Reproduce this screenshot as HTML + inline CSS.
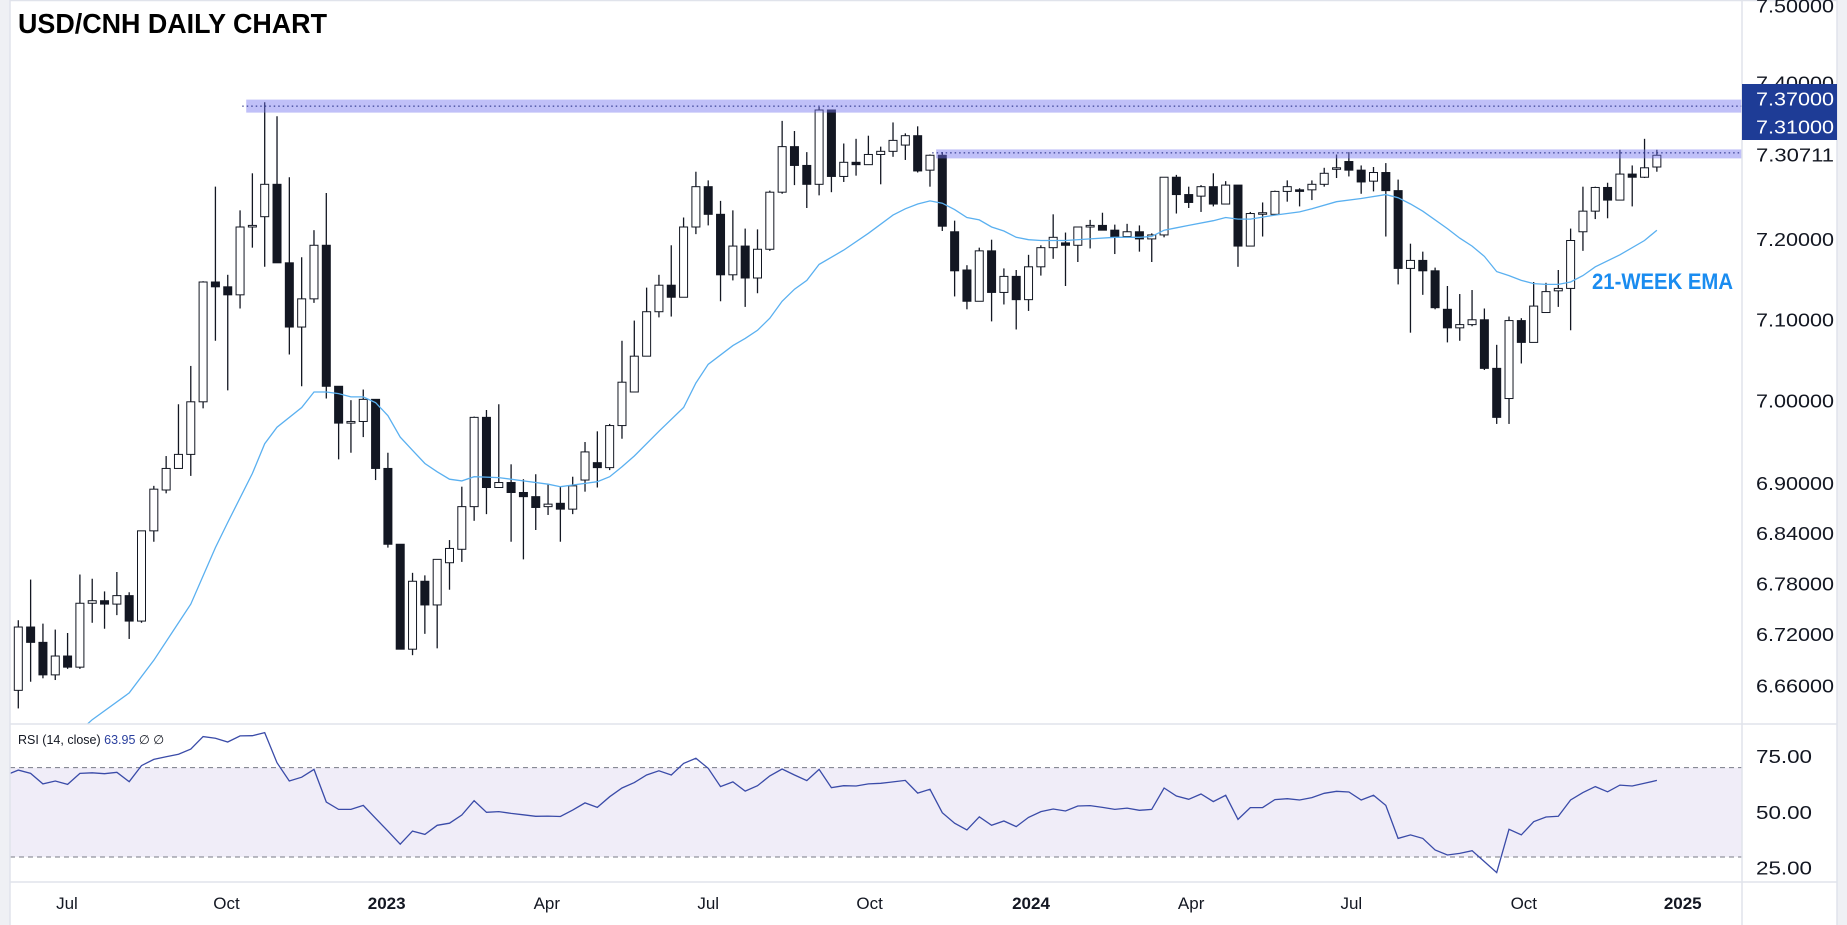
<!DOCTYPE html>
<html><head><meta charset="utf-8"><title>USD/CNH Daily Chart</title>
<style>
html,body{margin:0;padding:0;background:#eff0f4;}
#wrap{position:relative;width:1847px;height:925px;overflow:hidden;}
svg{display:block;}
text{font-family:"Liberation Sans",sans-serif;}
</style></head>
<body>
<div id="wrap">
<svg id="chart" width="1847" height="925" viewBox="0 0 1847 925">
  <rect x="10" y="0" width="1827" height="925" fill="#ffffff"/>
  <defs>
    <clipPath id="mainClip"><rect x="10" y="0" width="1732" height="724"/></clipPath>
    <clipPath id="rsiClip"><rect x="10" y="724" width="1732" height="158"/></clipPath>
  </defs>
  <g id="rsiBg"></g>
  <g id="candles" clip-path="url(#mainClip)"></g>
  <g id="ema" clip-path="url(#mainClip)"></g>
  <g id="bands"></g>
  <g id="rsi" clip-path="url(#rsiClip)"></g>
  <g id="axes"></g>
  <text x="18" y="33" font-size="28" font-weight="bold" fill="#000" textLength="309" lengthAdjust="spacingAndGlyphs">USD/CNH DAILY CHART</text>
  <text x="1592" y="289" font-size="22" font-weight="bold" fill="#1a8cf0" textLength="141" lengthAdjust="spacingAndGlyphs">21-WEEK EMA</text>
  <text x="18" y="744" font-size="12.5" fill="#131722">RSI (14, close) <tspan fill="#2a3f9e">63.95</tspan>  <tspan fill="#131722">∅ ∅</tspan></text>
</svg>
</div>
<script>
const opens=[6.655,6.729,6.711,6.673,6.695,6.682,6.757,6.760,6.756,6.766,6.736,6.843,6.892,6.918,6.935,6.999,7.147,7.141,7.131,7.216,7.229,7.270,7.171,7.091,7.126,7.193,7.018,6.973,6.975,7.002,6.918,6.827,6.703,6.783,6.755,6.805,6.821,6.872,6.980,6.895,6.901,6.889,6.884,6.872,6.876,6.869,6.904,6.925,6.919,6.970,7.011,7.055,7.110,7.143,7.128,7.216,7.267,7.232,7.156,7.192,7.152,7.188,7.260,7.318,7.294,7.270,7.365,7.280,7.298,7.295,7.308,7.312,7.320,7.332,7.288,7.307,7.210,7.162,7.123,7.186,7.134,7.154,7.125,7.166,7.190,7.196,7.193,7.216,7.218,7.212,7.204,7.210,7.201,7.206,7.279,7.257,7.255,7.267,7.245,7.269,7.192,7.233,7.232,7.261,7.263,7.263,7.270,7.290,7.299,7.288,7.274,7.285,7.262,7.164,7.174,7.161,7.113,7.090,7.094,7.100,7.040,7.003,7.099,7.072,7.109,7.136,7.139,7.210,7.236,7.266,7.250,7.283,7.279,7.292];
const highs=[6.737,6.785,6.733,6.726,6.722,6.791,6.786,6.771,6.794,6.770,6.843,6.897,6.933,6.996,7.043,7.148,7.267,7.156,7.237,7.284,7.375,7.357,7.279,7.178,7.212,7.259,7.018,7.001,7.014,7.002,6.937,6.827,6.793,6.790,6.809,6.832,6.896,6.981,6.989,6.996,6.923,6.905,6.911,6.899,6.896,6.908,6.950,6.963,6.972,7.074,7.099,7.140,7.156,7.193,7.228,7.286,7.275,7.249,7.237,7.214,7.213,7.262,7.351,7.338,7.311,7.369,7.365,7.322,7.328,7.332,7.318,7.349,7.335,7.344,7.308,7.311,7.224,7.168,7.190,7.200,7.164,7.162,7.181,7.193,7.232,7.209,7.216,7.225,7.234,7.219,7.220,7.218,7.208,7.279,7.282,7.267,7.269,7.284,7.274,7.269,7.235,7.247,7.262,7.275,7.265,7.275,7.291,7.308,7.311,7.294,7.292,7.297,7.276,7.195,7.185,7.165,7.142,7.132,7.137,7.114,7.069,7.104,7.102,7.147,7.146,7.162,7.214,7.267,7.267,7.272,7.314,7.294,7.328,7.314];
const lows=[6.634,6.665,6.669,6.667,6.680,6.680,6.734,6.727,6.743,6.715,6.734,6.830,6.888,6.918,6.909,6.991,7.074,7.013,7.114,7.190,7.166,7.171,7.057,7.018,7.121,7.003,6.929,6.937,6.956,6.904,6.823,6.703,6.696,6.721,6.704,6.773,6.806,6.855,6.863,6.895,6.830,6.809,6.844,6.862,6.830,6.863,6.890,6.895,6.916,6.954,7.011,7.055,7.103,7.104,7.128,7.207,7.218,7.123,7.149,7.116,7.133,7.186,7.258,7.269,7.240,7.256,7.260,7.273,7.281,7.295,7.270,7.305,7.301,7.285,7.267,7.211,7.129,7.113,7.123,7.098,7.119,7.088,7.111,7.155,7.176,7.142,7.172,7.189,7.212,7.182,7.204,7.185,7.172,7.203,7.233,7.240,7.235,7.242,7.245,7.166,7.192,7.204,7.231,7.248,7.242,7.250,7.267,7.278,7.280,7.258,7.261,7.204,7.144,7.084,7.131,7.113,7.072,7.074,7.092,7.038,6.972,6.972,7.046,7.072,7.109,7.116,7.087,7.186,7.226,7.227,7.250,7.242,7.278,7.286];
const closes=[6.729,6.711,6.673,6.695,6.682,6.757,6.760,6.756,6.766,6.736,6.843,6.893,6.918,6.935,6.999,7.147,7.141,7.131,7.216,7.218,7.270,7.171,7.091,7.126,7.193,7.018,6.973,6.975,7.002,6.918,6.827,6.703,6.783,6.755,6.809,6.822,6.872,6.980,6.895,6.901,6.889,6.884,6.871,6.875,6.869,6.897,6.938,6.919,6.970,7.023,7.055,7.110,7.143,7.128,7.216,7.267,7.232,7.156,7.192,7.152,7.188,7.260,7.318,7.294,7.270,7.365,7.280,7.298,7.295,7.308,7.312,7.326,7.332,7.287,7.307,7.217,7.161,7.123,7.186,7.134,7.154,7.125,7.166,7.190,7.203,7.193,7.216,7.218,7.212,7.204,7.210,7.201,7.206,7.279,7.257,7.247,7.267,7.245,7.269,7.192,7.233,7.234,7.261,7.267,7.261,7.270,7.284,7.291,7.288,7.273,7.285,7.262,7.164,7.174,7.161,7.115,7.090,7.094,7.100,7.040,6.980,7.099,7.072,7.117,7.135,7.139,7.199,7.236,7.266,7.250,7.283,7.279,7.291,7.307];
const emaIdx=[5,6,9,11,14,16,17,19,20,21,23,24,25,26,27,28,29,30,31,32,33,34,35,36,37,39,41,43,44,46,47,48,49,50,52,54,55,56,58,59,60,61,62,63,64,65,67,69,71,72,73,74,75,76,77,78,79,80,81,82,83,85,87,89,91,92,93,94,95,97,98,99,100,102,104,105,107,109,111,112,113,114,116,117,118,119,120,121,122,123,124,125,126,127,128,130,132,133];
const emaVal=[6.608,6.621,6.652,6.690,6.756,6.823,6.853,6.912,6.948,6.968,6.992,7.011,7.011,7.009,7.005,7.005,6.998,6.982,6.956,6.940,6.924,6.914,6.905,6.903,6.908,6.907,6.903,6.899,6.896,6.900,6.902,6.908,6.920,6.933,6.963,6.992,7.022,7.045,7.068,7.077,7.087,7.102,7.123,7.138,7.149,7.169,7.187,7.208,7.231,7.239,7.245,7.249,7.246,7.238,7.228,7.225,7.216,7.211,7.203,7.200,7.199,7.199,7.201,7.203,7.203,7.204,7.212,7.215,7.218,7.224,7.228,7.226,7.226,7.231,7.235,7.239,7.248,7.252,7.257,7.253,7.245,7.236,7.214,7.202,7.192,7.179,7.160,7.155,7.149,7.145,7.144,7.144,7.147,7.155,7.166,7.181,7.199,7.212];
const rsiStart=-1;
const rsiVals=[66.7,68.9,67.4,62.7,64.0,62.5,67.4,67.7,67.3,67.9,63.7,70.9,73.7,74.9,76.0,78.3,83.9,83.2,81.5,84.2,84.3,85.7,72.2,64.0,65.7,69.2,54.6,51.3,51.3,53.1,47.3,41.6,35.7,41.6,40.1,44.2,45.1,48.8,55.2,50.0,50.3,49.5,48.9,48.2,48.3,48.1,51.0,54.2,52.2,57.0,60.9,63.3,66.7,68.6,66.7,71.9,74.2,69.7,61.5,63.6,59.5,61.9,66.3,69.4,66.7,64.2,69.2,61.0,61.9,61.8,
62.7,63.0,63.6,64.3,58.6,60.3,49.8,45.1,42.1,48.0,44.2,46.1,43.6,47.7,50.3,51.5,50.6,52.8,53.0,52.2,51.3,51.9,50.9,51.3,60.9,57.3,55.8,58.2,54.8,57.6,46.8,52.1,52.1,55.7,56.1,55.5,56.6,58.5,59.4,59.1,55.5,57.6,53.1,38.3,39.9,38.3,33.1,30.9,31.6,32.8,27.9,23.0,42.4,39.9,45.8,47.9,48.2,55.5,58.8,61.5,59.2,62.2,61.8,63.0,64.3];
const priceTicks=[7.5,7.4,7.2,7.1,7.0,6.9,6.84,6.78,6.72,6.66];
const rsiTicks=[75,50,25];
const timeLabels=["Jul","Oct","2023","Apr","Jul","Oct","2024","Apr","Jul","Oct","2025"];
const timePos=[3.95,16.9,29.9,42.9,56.0,69.1,82.2,95.2,108.2,122.2,135.1];
const levels=[7.37,7.31];
const levelStart=[18.5,74.5];
const lastPrice=7.30711;

const NS="http://www.w3.org/2000/svg";
function mk(tag,attrs,parent){const e=document.createElementNS(NS,tag);for(const k in attrs)e.setAttribute(k,attrs[k]);parent.appendChild(e);return e;}
function xS(i){return 18.3+i*12.32;}
function yS(p){return 6+5725*Math.log(7.5/p);}
function rY(v){return 812.3-(v-50)*2.233;}

// RSI background band
const rb=document.getElementById('rsiBg');
const band=mk('rect',{x:10,y:rY(70),width:1732,height:rY(30)-rY(70),fill:'#f0edf8'},rb);


[70,30].forEach(v=>{
  const l=mk('line',{x1:10,x2:1742,y1:rY(v),y2:rY(v),stroke:'#787b86','stroke-width':1,'stroke-dasharray':'5,4'},rb);
  
  
});

// candles
const cg=document.getElementById('candles');
for(let i=0;i<closes.length;i++){
  const x=xS(i),o=opens[i],c=closes[i],h=highs[i],lo=lows[i];
  const up=c>=o;
  const g=mk('g',{},cg);
  
  
  mk('line',{x1:x,x2:x,y1:yS(h),y2:yS(lo),stroke:'#131722','stroke-width':1.3},g);
  const top=yS(Math.max(o,c)),bot=yS(Math.min(o,c));
  mk('rect',{x:x-4,y:top,width:8,height:Math.max(bot-top,1.5),fill:up?'#ffffff':'#131722',stroke:'#131722','stroke-width':1},g);
}

// EMA
const eg=document.getElementById('ema');
let d='';
for(let k=0;k<emaIdx.length;k++){d+=(k?'L':'M')+xS(emaIdx[k]).toFixed(1)+','+yS(emaVal[k]).toFixed(1);}
const ep=mk('path',{d:d,fill:'none',stroke:'#5ab0f0','stroke-width':1.3},eg);



// resistance bands
const bg=document.getElementById('bands');
for(let k=0;k<levels.length;k++){
  const y=yS(levels[k]);
  const x0=xS(levelStart[k]);
  const r=mk('rect',{x:x0,y:y-6.5,width:1742-x0,height:k===0?13:9,fill:'rgba(115,115,240,0.45)'},bg);
  if(k===1)r.setAttribute('y',y-3.5);
  
  
  const l=mk('line',{x1:x0-4,x2:1742,y1:y,y2:y,stroke:'#1a237e','stroke-width':1,'stroke-dasharray':'1.5,3'},bg);
  
  
}

// RSI line
const rg=document.getElementById('rsi');
let rd='';
for(let k=0;k<rsiVals.length;k++){rd+=(k?'L':'M')+xS(rsiStart+k).toFixed(1)+','+rY(rsiVals[k]).toFixed(1);}
const rp=mk('path',{d:rd,fill:'none',stroke:'#3a4ba8','stroke-width':1.3},rg);



// axes & grid frame
const ax=document.getElementById('axes');
[[10,724,1837,724],[10,882,1837,882],[1742,0,1742,925],[10,0,10,925],[1837,0,1837,925],[10,0.5,1837,0.5]].forEach((a,n)=>{
  const l=mk('line',{x1:a[0],y1:a[1],x2:a[2],y2:a[3],stroke:'#e0e3eb','stroke-width':1.5},ax);
  
  
});
priceTicks.forEach(p=>{
  const t=mk('text',{x:1756,y:yS(p)+6.5,'font-size':18,fill:'#131722',textLength:78,lengthAdjust:'spacingAndGlyphs'},ax);
  t.textContent=p.toFixed(5);
  
  
});
// last price label
const lp=mk('text',{x:1756,y:yS(lastPrice)+6.5,'font-size':18,fill:'#131722',textLength:78,lengthAdjust:'spacingAndGlyphs'},ax);
lp.textContent=lastPrice.toFixed(5);


// highlighted level labels
const box=mk('rect',{x:1742,y:84,width:95,height:56,fill:'#1e3c96'},ax);


levels.forEach((v,k)=>{
  const t=mk('text',{x:1756,y:99+k*28+6.5,'font-size':18,fill:'#ffffff',textLength:78,lengthAdjust:'spacingAndGlyphs'},ax);
  t.textContent=v.toFixed(5);
  
  
});
rsiTicks.forEach(v=>{
  const t=mk('text',{x:1756,y:rY(v)+6.5,'font-size':18,fill:'#131722',textLength:56,lengthAdjust:'spacingAndGlyphs'},ax);
  t.textContent=v.toFixed(2);
  
  
});
timeLabels.forEach((s,k)=>{
  const yr=/^\d{4}$/.test(s);
  const t=mk('text',{x:xS(timePos[k]),y:909,'font-size':17,'text-anchor':'middle',fill:'#131722','font-weight':yr?'bold':'normal'},ax);
  t.textContent=s;
  
  
});
</script>
</body></html>
